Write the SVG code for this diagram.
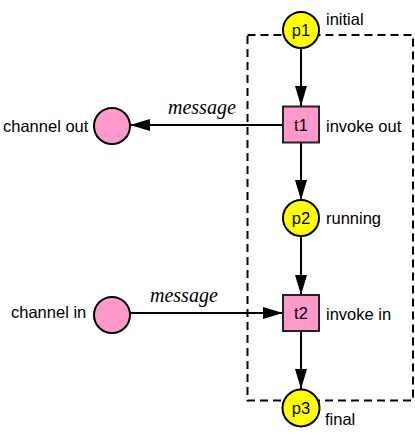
<svg xmlns="http://www.w3.org/2000/svg" width="415" height="437" viewBox="0 0 415 437">
<style>
.place{fill:#FFFF00;stroke:#000;stroke-width:2}
.chan{fill:#FF99CC;stroke:#000;stroke-width:2}
.trans{fill:#FF99CC;stroke:#222;stroke-width:2}
.lbl{font-family:"Liberation Sans",Arial,sans-serif;font-size:16.5px;fill:#000}
.ctr{font-family:"Liberation Sans",Arial,sans-serif;font-size:16.5px;fill:#000;text-anchor:middle}
.msg{font-family:"Liberation Serif","Times New Roman",serif;font-style:italic;font-size:20px;fill:#000}
.arc{stroke:#000;stroke-width:2;fill:none;marker-end:url(#ah)}
</style>
<defs>
<marker id="ah" markerUnits="userSpaceOnUse" markerWidth="22" markerHeight="14" refX="20" refY="6" orient="auto">
<path d="M0,0 L20,6 L0,12 Z" fill="#000"/>
</marker>
</defs>
<rect x="247.5" y="35" width="165.5" height="365.5" fill="none" stroke="#000" stroke-width="2" stroke-dasharray="8,5"/>
<g id="connectors">
<line class="arc" x1="301" y1="48" x2="301" y2="106"/>
<line class="arc" x1="283" y1="125" x2="130" y2="125"/>
<line class="arc" x1="301" y1="143" x2="301" y2="200"/>
<line class="arc" x1="301" y1="236" x2="301" y2="295"/>
<line class="arc" x1="130" y1="313" x2="283" y2="313"/>
<line class="arc" x1="301" y1="331" x2="301" y2="389"/>
<text class="msg" x="168" y="114">message</text>
<text class="msg" x="150" y="302">message</text>
</g>
<g id="p1">
<circle class="place" cx="301" cy="30" r="18"/>
<text class="ctr" x="301" y="36">p1</text>
<text class="lbl" x="326" y="25">initial</text>
</g>
<g id="t1">
<rect class="trans" x="283" y="106.5" width="36" height="36"/>
<text class="ctr" x="301" y="131">t1</text>
<text class="lbl" x="326" y="132">invoke out</text>
</g>
<g id="channel_out">
<circle class="chan" cx="112" cy="126" r="18"/>
<text class="lbl" x="3" y="132">channel out</text>
</g>
<g id="p2">
<circle class="place" cx="301" cy="218" r="18"/>
<text class="ctr" x="301" y="224">p2</text>
<text class="lbl" x="326" y="224">running</text>
</g>
<g id="t2">
<rect class="trans" x="283" y="295" width="36" height="36"/>
<text class="ctr" x="301" y="319">t2</text>
<text class="lbl" x="326" y="320">invoke in</text>
</g>
<g id="channel_in">
<circle class="chan" cx="112" cy="315" r="18"/>
<text class="lbl" x="11" y="318">channel in</text>
</g>
<g id="p3">
<circle class="place" cx="301" cy="408" r="18.5"/>
<text class="ctr" x="301" y="414">p3</text>
<text class="lbl" x="325" y="425">final</text>
</g>
</svg>
